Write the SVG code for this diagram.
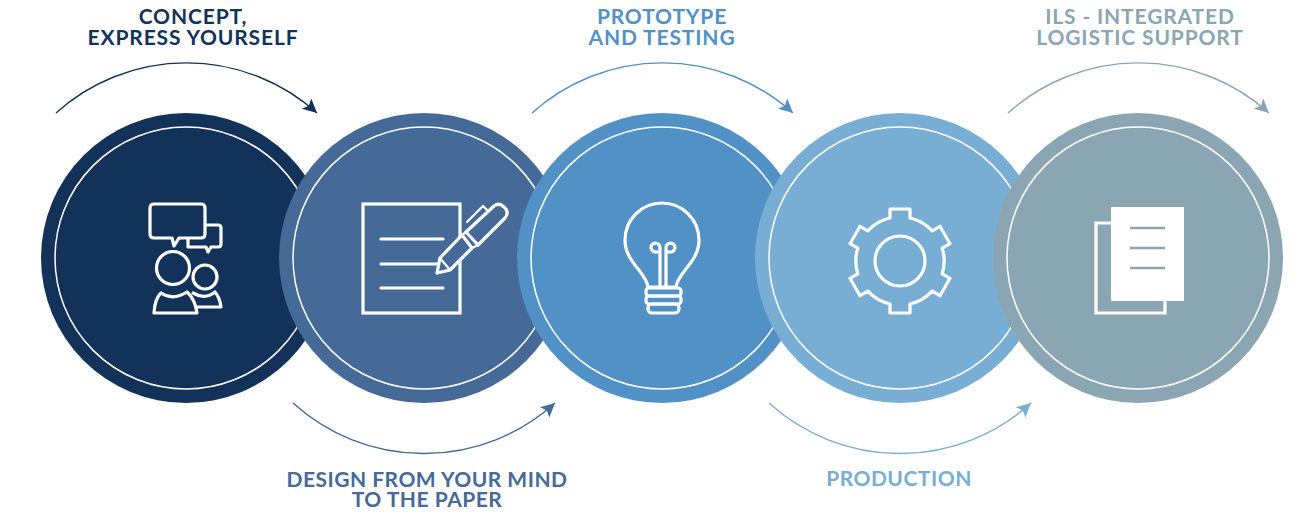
<svg xmlns="http://www.w3.org/2000/svg" width="1304" height="515" viewBox="0 0 1304 515">
<style>
.t{font-family:"Lato","Noto Sans","Liberation Sans",sans-serif;font-weight:700;font-size:21px;letter-spacing:0.85px;text-anchor:middle}
.n{letter-spacing:0.5px}
.ring{fill:none;stroke:#fff;stroke-width:1.5}
.i{fill:none;stroke:#fff;stroke-width:3.2;stroke-linejoin:round;stroke-linecap:round}
.a{fill:none;stroke-width:1.4}
</style>
<defs>
<marker id="m1" markerUnits="userSpaceOnUse" markerWidth="16" markerHeight="16" refX="14" refY="7" orient="auto"><path d="M0 0L14 7L0 14L3 7Z" fill="#12325a"/></marker>
<marker id="m2" markerUnits="userSpaceOnUse" markerWidth="16" markerHeight="16" refX="14" refY="7" orient="auto"><path d="M0 0L14 7L0 14L3 7Z" fill="#456a97"/></marker>
<marker id="m3" markerUnits="userSpaceOnUse" markerWidth="16" markerHeight="16" refX="14" refY="7" orient="auto"><path d="M0 0L14 7L0 14L3 7Z" fill="#5291c6"/></marker>
<marker id="m4" markerUnits="userSpaceOnUse" markerWidth="16" markerHeight="16" refX="14" refY="7" orient="auto"><path d="M0 0L14 7L0 14L3 7Z" fill="#78add4"/></marker>
<marker id="m5" markerUnits="userSpaceOnUse" markerWidth="16" markerHeight="16" refX="14" refY="7" orient="auto"><path d="M0 0L14 7L0 14L3 7Z" fill="#8aa6b2"/></marker>
</defs>
<rect width="1304" height="515" fill="#fff"/>
<g id="connectors">
<path class="a" stroke="#12325a" marker-end="url(#m1)" d="M56 113A195 195 0 0 1 317 113"/>
<path class="a" stroke="#456a97" marker-end="url(#m2)" d="M293 403A195 195 0 0 0 555 403"/>
<path class="a" stroke="#5291c6" marker-end="url(#m3)" d="M532 113A195 195 0 0 1 793 113"/>
<path class="a" stroke="#78add4" marker-end="url(#m4)" d="M769 403A195 195 0 0 0 1031 403"/>
<path class="a" stroke="#8aa6b2" marker-end="url(#m5)" d="M1008 113A195 195 0 0 1 1269 113"/>
</g>
<g id="node-concept">
<circle cx="186" cy="258" r="145" fill="#12325a"/><circle class="ring" cx="186" cy="258" r="131"/>
<path class="i" d="M154 204H201Q205 204 205 208V234Q205 238 201 238H179L174 246L172 238H154Q150 238 150 234V208Q150 204 154 204Z"/>
<path class="i" d="M206 225H218Q221 225 221 228V244Q221 247 218 247H211L208 252L206 247H188V239"/>
<circle class="i" cx="173" cy="268" r="16.5"/><circle class="i" cx="205" cy="277" r="12"/>
<path class="i" d="M154 313Q155 298 161 293Q173 301 187 292Q195 299 197 313Z"/>
<path class="i" d="M193 293Q205 300 215 292Q220 298 221 307H197"/>
<text class="t" fill="#12325a"><tspan x="193" y="24">CONCEPT,</tspan><tspan x="193" y="45">EXPRESS YOURSELF</tspan></text>
</g>
<g id="node-design">
<circle cx="424" cy="258" r="145" fill="#456a97"/><circle class="ring" cx="424" cy="258" r="131"/>
<rect class="i" x="363" y="204" width="97" height="109" style="stroke-linejoin:miter"/>
<path class="i" d="M381 239H443M381 264H439M381 288H443"/>
<path class="i" style="fill:#456a97" d="M440 258L462 235L472 248L450 270L437 273Z"/>
<path class="i" style="fill:#456a97" d="M466 232L494 206Q499 202 504 207Q510 212 505 218L478 245Z"/>
<path class="i" style="stroke-width:2.2" d="M467 222L483 206L487 210M462 235L466 232M472 248L478 245M440 258L450 270"/>
<text class="t n" fill="#456a97"><tspan x="427" y="487">DESIGN FROM YOUR MIND</tspan><tspan x="427" y="507">TO THE PAPER</tspan></text>
</g>
<g id="node-prototype">
<circle cx="662" cy="258" r="145" fill="#5291c6"/><circle class="ring" cx="662" cy="258" r="131"/>
<path class="i" d="M648 287C646 272 625 262 625 240A37 37 0 0 1 699 240C699 262 678 272 676 287Z"/>
<path class="i" d="M660 287V252M666 287V252M660 252H656A4.5 4.5 0 1 1 660 247.500V252M666 252H670A4.500 4.500 0 1 0 666 247.500V252"/>
<rect class="i" x="646" y="288" width="35" height="8" rx="3"/><rect class="i" x="646" y="296" width="35" height="8" rx="3"/><rect class="i" x="648" y="304" width="31" height="9" rx="4"/>
<text class="t" fill="#5291c6"><tspan x="662" y="24">PROTOTYPE</tspan><tspan x="662" y="45">AND TESTING</tspan></text>
</g>
<g id="node-production">
<circle cx="900" cy="258" r="145" fill="#78add4"/><circle class="ring" cx="900" cy="258" r="131"/>
<g transform="translate(900 261)"><circle class="i" r="25"/>
<path class="i" d="M-10 -43V-52H10V-43A43 43 0 0 1 32.200 -30.200L40 -34.700L50 -17.300L42.200 -12.800A43 43 0 0 1 42.200 12.800L50 17.300L40 34.700L32.200 30.200A43 43 0 0 1 10 43V52H-10V43A43 43 0 0 1 -32.200 30.200L-40 34.700L-50 17.300L-42.200 12.800A43 43 0 0 1 -42.200 -12.800L-50 -17.300L-40 -34.700L-32.200 -30.200A43 43 0 0 1 -10 -43Z"/></g>
<text class="t n" x="899" y="486" fill="#78add4">PRODUCTION</text>
</g>
<g id="node-ils">
<circle cx="1138" cy="258" r="145" fill="#8aa6b2"/><circle class="ring" cx="1138" cy="258" r="131"/>
<path class="i" style="stroke-linejoin:miter;stroke-linecap:butt" d="M1112 223H1096V313H1165V300"/>
<rect x="1111" y="207" width="73" height="94" fill="#fff"/>
<path d="M1130 228H1165M1130 248H1165M1130 268H1165" stroke="#8aa6b2" stroke-width="2.500" fill="none"/>
<text class="t" fill="#8aa6b2"><tspan x="1140" y="24">ILS - INTEGRATED</tspan><tspan x="1140" y="45">LOGISTIC SUPPORT</tspan></text>
</g>
</svg>
